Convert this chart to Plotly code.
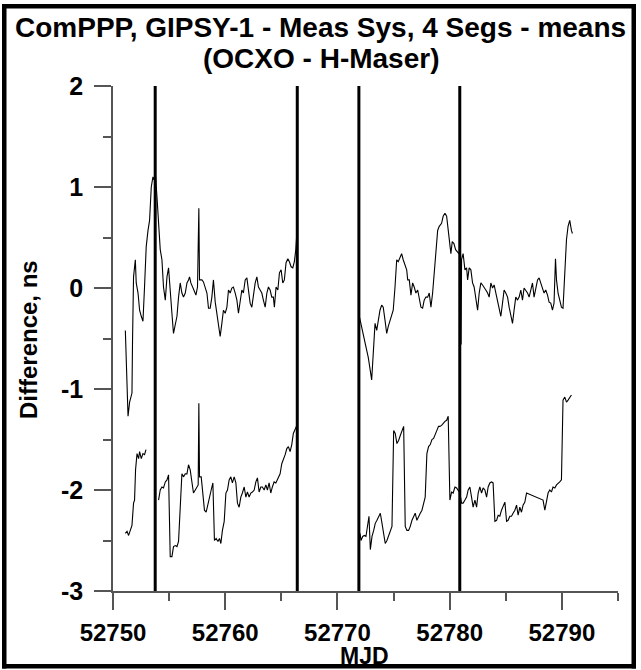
import plotly.graph_objects as go

# ---------------- data ----------------
top_seg1_mjd = [52751.10, 52751.34, 52751.48, 52751.69, 52751.74, 52751.83, 52751.99, 52752.07, 52752.23, 52752.37,
                52752.52, 52752.67, 52752.81, 52752.96, 52753.12, 52753.26, 52753.41, 52753.56, 52753.65, 52753.77,
                52753.92, 52754.06, 52754.21, 52754.36, 52754.50, 52754.66, 52754.81, 52754.95, 52755.10, 52755.25,
                52755.39, 52755.55, 52755.70, 52755.84, 52755.99, 52756.14, 52756.28, 52756.44, 52756.59, 52756.73,
                52756.82, 52756.94, 52757.08, 52757.24, 52757.39, 52757.53, 52757.65, 52757.71, 52757.92, 52758.06,
                52758.22, 52758.37, 52758.51, 52758.66, 52758.81, 52758.95, 52759.11, 52759.26, 52759.40, 52759.55,
                52759.70, 52759.84, 52760.00, 52760.15, 52760.29, 52760.44, 52760.59, 52760.73, 52760.89, 52761.04,
                52761.18, 52761.33, 52761.48, 52761.62, 52761.78, 52761.93, 52762.07, 52762.22, 52762.37, 52762.51,
                52762.67, 52762.82, 52762.96, 52763.11, 52763.26, 52763.40, 52763.56, 52763.71, 52763.85, 52764.00,
                52764.15, 52764.29, 52764.38, 52764.53, 52764.69, 52764.83, 52764.98, 52765.13, 52765.27, 52765.42,
                52765.58, 52765.72, 52765.87, 52766.02, 52766.16, 52766.29, 52766.38]
top_seg1_val = [-0.42, -1.27, -1.13, -1.04, -0.52, 0.11, 0.28, 0.05, -0.05, -0.22,
                -0.28, -0.33, 0.01, 0.41, 0.57, 0.67, 1.00, 1.10, 1.07, 1.14,
                0.90, 0.61, 0.38, 0.28, 0.01, -0.12, 0.11, 0.20, 0.01, -0.25,
                -0.45, -0.35, -0.28, -0.09, 0.05, -0.05, -0.09, -0.05, 0.05, 0.08,
                0.11, 0.05, 0.01, -0.04, -0.07, 0.01, 0.79, 0.08, 0.08, 0.06,
                0.00, -0.05, -0.20, -0.20, -0.09, 0.08, -0.14, -0.25, -0.35, -0.48,
                -0.35, -0.22, -0.25, -0.19, -0.02, -0.05, 0.00, 0.01, -0.05, -0.12,
                -0.25, -0.12, -0.02, -0.05, 0.08, 0.10, -0.05, -0.15, -0.19, -0.05,
                0.05, 0.11, 0.01, -0.02, -0.05, -0.12, -0.19, -0.05, 0.01, -0.02,
                -0.09, -0.09, -0.19, 0.01, -0.02, 0.15, 0.18, 0.05, 0.08, 0.25,
                0.29, 0.26, 0.21, 0.20, 0.26, 0.38, 0.54]

top_seg3_mjd = [52771.95, 52772.16, 52772.46, 52772.75, 52773.05, 52773.19, 52773.35, 52773.50, 52773.64, 52773.79,
                52773.94, 52774.08, 52774.24, 52774.39, 52774.53, 52774.68, 52774.83, 52774.97, 52775.13, 52775.28,
                52775.42, 52775.57, 52775.72, 52775.86, 52776.02, 52776.17, 52776.26, 52776.40, 52776.55, 52776.70,
                52776.84, 52776.99, 52777.15, 52777.29, 52777.44, 52777.59, 52777.73, 52777.88, 52778.04, 52778.18,
                52778.33, 52778.48, 52778.62, 52778.77, 52778.93, 52779.07, 52779.28, 52779.42, 52779.58, 52779.73,
                52779.87, 52780.02, 52780.11, 52780.23, 52780.38, 52780.53, 52780.67, 52780.82, 52780.97, 52781.02,
                52781.06, 52781.20, 52781.36, 52781.51, 52781.60, 52781.74, 52781.89, 52782.04, 52782.18, 52782.33,
                52782.49, 52782.63, 52782.78, 52782.93, 52783.07, 52783.22, 52783.38, 52783.52, 52783.67, 52783.82,
                52783.96, 52784.11, 52784.27, 52784.41, 52784.56, 52784.71, 52784.85, 52785.00, 52785.16, 52785.30,
                52785.45, 52785.60, 52785.74, 52785.89, 52786.05, 52786.19, 52786.34, 52786.49, 52786.63, 52786.78,
                52786.94, 52787.08, 52787.23, 52787.38, 52787.52, 52787.67, 52787.83, 52787.97, 52788.12, 52788.27,
                52788.41, 52788.56, 52788.72, 52788.86, 52789.01, 52789.16, 52789.30, 52789.43, 52789.52, 52789.66,
                52789.81, 52789.96, 52790.10, 52790.26, 52790.41, 52790.55, 52790.70, 52790.85, 52790.94]
top_seg3_val = [-0.28, -0.38, -0.52, -0.69, -0.91, -0.61, -0.35, -0.42, -0.32, -0.22,
                -0.17, -0.19, -0.32, -0.45, -0.38, -0.32, -0.25, -0.22, 0.01, 0.28,
                0.26, 0.31, 0.34, 0.28, 0.23, 0.18, 0.08, 0.08, -0.07, 0.05,
                0.01, -0.05, -0.02, -0.12, -0.19, -0.20, -0.12, -0.09, -0.09, -0.05,
                -0.19, -0.05, 0.15, 0.41, 0.57, 0.61, 0.64, 0.71, 0.74, 0.71,
                0.57, 0.44, 0.34, 0.46, 0.44, 0.38, 0.36, 0.34, 0.33, -0.56,
                0.28, 0.34, 0.18, 0.20, 0.08, 0.20, 0.18, 0.05, 0.01, -0.09,
                -0.22, -0.05, 0.05, 0.03, 0.00, -0.02, -0.05, -0.09, 0.05, 0.00,
                0.03, -0.05, -0.12, -0.22, -0.28, -0.15, -0.02, -0.05, -0.09, -0.19,
                -0.28, -0.35, -0.22, -0.09, -0.12, -0.09, -0.02, -0.12, 0.00, -0.02,
                -0.05, -0.09, -0.02, 0.05, -0.09, -0.02, 0.08, 0.10, 0.05, -0.02,
                -0.05, -0.02, -0.07, -0.14, -0.15, -0.22, -0.15, 0.29, 0.08, -0.05,
                -0.12, -0.19, -0.20, 0.15, 0.48, 0.61, 0.67, 0.57, 0.54]

bot_seg1_mjd = [52751.10, 52751.25, 52751.39, 52751.54, 52751.69, 52751.83, 52751.92, 52752.01, 52752.14, 52752.28,
                52752.37, 52752.52, 52752.67, 52752.81, 52752.94]
bot_seg1_val = [-2.43, -2.41, -2.45, -2.40, -2.35, -2.13, -2.10, -1.80, -1.64, -1.69,
                -1.62, -1.69, -1.64, -1.65, -1.60]

bot_seg2_mjd = [52754.06, 52754.21, 52754.36, 52754.50, 52754.66, 52754.81, 52754.95, 52755.04, 52755.10, 52755.25,
                52755.39, 52755.55, 52755.70, 52755.84, 52755.99, 52756.14, 52756.28, 52756.44, 52756.59, 52756.73,
                52756.88, 52757.03, 52757.17, 52757.33, 52757.48, 52757.59, 52757.65, 52757.71, 52757.86, 52758.01,
                52758.15, 52758.30, 52758.46, 52758.60, 52758.75, 52758.90, 52759.04, 52759.19, 52759.35, 52759.49,
                52759.61, 52759.75, 52759.91, 52760.06, 52760.20, 52760.35, 52760.50, 52760.64, 52760.80, 52760.95,
                52761.09, 52761.24, 52761.39, 52761.53, 52761.69, 52761.84, 52761.98, 52762.13, 52762.28, 52762.42,
                52762.58, 52762.73, 52762.87, 52763.02, 52763.17, 52763.31, 52763.47, 52763.62, 52763.76, 52763.91,
                52764.06, 52764.20, 52764.36, 52764.51, 52764.65, 52764.80, 52764.89, 52765.04, 52765.18, 52765.34,
                52765.49, 52765.63, 52765.78, 52765.93, 52766.07, 52766.23, 52766.38]
bot_seg2_val = [-2.10, -2.00, -1.97, -1.98, -1.92, -1.90, -1.85, -2.26, -2.66, -2.66,
                -2.56, -2.55, -2.56, -2.51, -2.13, -1.84, -1.87, -1.84, -1.84, -1.75,
                -1.80, -1.93, -2.03, -2.00, -1.97, -1.95, -1.14, -1.87, -1.87, -2.03,
                -2.20, -2.22, -2.13, -2.07, -2.00, -1.93, -2.50, -2.48, -2.51, -2.48,
                -2.53, -2.40, -2.31, -2.03, -2.00, -1.90, -1.87, -1.93, -1.87, -1.93,
                -2.13, -2.17, -2.07, -2.03, -1.97, -2.07, -2.02, -2.07, -2.03, -2.02,
                -2.00, -1.92, -1.88, -2.02, -1.97, -1.97, -2.00, -1.95, -2.00, -1.93,
                -2.03, -1.97, -1.92, -1.93, -1.90, -1.87, -1.84, -1.74, -1.70, -1.65,
                -1.59, -1.57, -1.62, -1.55, -1.44, -1.39, -1.36]

bot_seg3_mjd = [52772.01, 52772.10, 52772.25, 52772.39, 52772.54, 52772.70, 52772.81, 52772.93, 52773.08, 52773.23,
                52773.37, 52773.52, 52773.67, 52773.82, 52773.97, 52774.12, 52774.26, 52774.41, 52774.56, 52774.71,
                52774.86, 52775.01, 52775.15, 52775.30, 52775.45, 52775.60, 52775.75, 52775.90, 52776.04, 52776.19,
                52776.34, 52776.49, 52776.64, 52776.79, 52776.93, 52777.08, 52777.23, 52777.38, 52777.53, 52777.68,
                52777.82, 52777.97, 52778.12, 52778.27, 52778.42, 52778.57, 52778.71, 52778.86, 52779.01, 52779.13,
                52779.28, 52779.42, 52779.58, 52779.73, 52779.87, 52780.02, 52780.17, 52780.31, 52780.47, 52780.62,
                52780.76, 52780.91, 52781.06, 52781.20, 52781.36, 52781.51, 52781.65, 52781.80, 52781.95, 52782.09,
                52782.25, 52782.40, 52782.54, 52782.69, 52782.84, 52782.98, 52783.14, 52783.29, 52783.43, 52783.58,
                52783.73, 52783.87, 52784.03, 52784.18, 52784.32, 52784.47, 52784.62, 52784.76, 52784.92, 52785.07,
                52785.21, 52785.36, 52785.51, 52785.65, 52785.81, 52785.96, 52786.10, 52786.25, 52786.40, 52786.54,
                52786.70, 52786.85, 52788.32, 52788.48, 52788.63, 52788.77, 52788.92, 52789.07, 52789.21, 52789.37,
                52789.52, 52789.66, 52789.81, 52789.96, 52790.10, 52790.26, 52790.41, 52790.55, 52790.70, 52790.85]
bot_seg3_val = [-2.43, -2.50, -2.46, -2.45, -2.46, -2.36, -2.26, -2.59, -2.46, -2.40,
                -2.33, -2.30, -2.26, -2.23, -2.33, -2.46, -2.53, -2.50, -2.45, -2.41,
                -2.36, -1.41, -1.44, -1.54, -1.51, -1.46, -1.41, -1.37, -2.36, -2.40,
                -2.40, -2.36, -2.30, -2.26, -2.23, -2.30, -2.26, -2.23, -2.20, -2.13,
                -2.07, -1.64, -1.57, -1.55, -1.50, -1.49, -1.44, -1.41, -1.37, -1.37,
                -1.36, -1.34, -1.32, -1.31, -1.27, -2.10, -2.02, -2.03, -1.97, -1.98,
                -2.00, -2.03, -2.13, -2.13, -2.10, -2.07, -2.00, -1.97, -2.07, -2.17,
                -2.10, -2.17, -2.03, -1.97, -2.03, -1.98, -2.00, -2.07, -1.97, -1.93,
                -1.92, -1.93, -2.31, -2.30, -2.25, -2.26, -2.20, -2.17, -2.12, -2.31,
                -2.30, -2.26, -2.26, -2.23, -2.20, -2.15, -2.25, -2.17, -2.22, -2.15,
                -2.12, -2.03, -2.10, -2.20, -2.10, -2.03, -2.00, -2.02, -1.97, -1.98,
                -1.95, -1.93, -1.92, -1.90, -1.11, -1.08, -1.13, -1.11, -1.09, -1.06]

segment_bounds = [52753.76, 52766.42, 52771.91, 52780.90]

x_range = [52750, 52795]
y_range = [-3, 2]
x_ticks = [52750, 52760, 52770, 52780, 52790]
x_ticklabels = ["52750", "52760", "52770", "52780", "52790"]
y_ticks = [-3, -2, -1, 0, 1, 2]
y_ticklabels = ["-3", "-2", "-1", "0", "1", "2"]

title_lines = ["ComPPP, GIPSY-1 - Meas Sys, 4 Segs - means", "(OCXO - H-Maser)"]
x_title = "MJD"
y_title = "Difference, ns"


def join(*segs):
    xs, ys = [], []
    for i, (sx, sy) in enumerate(segs):
        if i:
            xs.append(None)
            ys.append(None)
        xs += list(sx)
        ys += list(sy)
    return xs, ys


# ---------------- figure ----------------
W, H = 641, 670
ML, MR, MT, MB = 113, 23, 86, 79
FONT = "Liberation Sans, Arial, sans-serif"
AX = "#555555"

fig = go.Figure()

tx, ty = join((top_seg1_mjd, top_seg1_val), (top_seg3_mjd, top_seg3_val))
bx, by = join((bot_seg1_mjd, bot_seg1_val), (bot_seg2_mjd, bot_seg2_val), (bot_seg3_mjd, bot_seg3_val))

for xs, ys in [(tx, ty), (bx, by)]:
    fig.add_trace(go.Scatter(x=xs, y=ys, mode="lines", connectgaps=False,
                             line=dict(color="black", width=1.1),
                             showlegend=False, hoverinfo="skip"))

for b in segment_bounds:
    fig.add_trace(go.Scatter(x=[b, b], y=y_range, mode="lines",
                             line=dict(color="black", width=3),
                             showlegend=False, hoverinfo="skip"))

tickfont = dict(family=FONT, size=24, color="black", weight="bold")
titlefont = dict(family=FONT, size=24, color="black", weight="bold")

fig.update_xaxes(range=x_range, tickvals=x_ticks, ticktext=x_ticklabels, ticks="outside",
                 ticklen=17, tickwidth=1.5, tickcolor=AX, showline=True, linecolor=AX, linewidth=1.5,
                 showgrid=False, zeroline=False, tickfont=tickfont, ticklabelstandoff=2,
                 minor=dict(dtick=5, tick0=52750, ticks="outside", ticklen=8, tickwidth=1.5,
                            tickcolor=AX, showgrid=False))
fig.update_yaxes(range=y_range, tickvals=y_ticks, ticktext=y_ticklabels, ticks="outside",
                 ticklen=17, tickwidth=1.5, tickcolor=AX, showline=True, linecolor=AX, linewidth=1.5,
                 showgrid=False, zeroline=False, tickfont=dict(tickfont, size=25), ticklabelstandoff=6,
                 minor=dict(dtick=0.5, tick0=-3, ticks="outside", ticklen=8, tickwidth=1.5,
                            tickcolor=AX, showgrid=False))

pw = W - ML - MR
ph = H - MT - MB
def px2paper_x(p):
    return (p - ML) / pw
def px2paper_y(p):
    return (H - MB - p) / ph

# outer frame: four filled black bars (pixel-placed)
fl, fr, ft, fb, th = 2.0, 636.0, 4.0, 668.5, 4.5
bars = [(fl, ft, fr, ft + th),          # top
        (fl, fb - th, fr, fb),          # bottom
        (fl, ft, fl + th, fb),          # left
        (fr - th, ft, fr, fb)]          # right
for (x0, y0, x1, y1) in bars:
    fig.add_shape(type="rect", xref="paper", yref="paper",
                  x0=px2paper_x(x0), y0=px2paper_y(y1), x1=px2paper_x(x1), y1=px2paper_y(y0),
                  line=dict(width=0), fillcolor="black", layer="above")

# title and axis titles as annotations (pixel-placed)
for txt, yc in zip(title_lines, [28, 59]):
    fig.add_annotation(text=txt, xref="paper", yref="paper",
                       x=px2paper_x(320.5), y=px2paper_y(yc), xanchor="center", yanchor="middle",
                       showarrow=False,
                       font=dict(family=FONT, size=28, color="black", weight="bold"))
fig.add_annotation(text=y_title, xref="paper", yref="paper", textangle=-90,
                   x=px2paper_x(28), y=px2paper_y(340), xanchor="center", yanchor="middle",
                   showarrow=False, font=titlefont)
fig.add_annotation(text=x_title, xref="paper", yref="paper",
                   x=px2paper_x(364), y=px2paper_y(656), xanchor="center", yanchor="middle",
                   showarrow=False, font=dict(titlefont, size=23))

fig.update_layout(
    width=W, height=H,
    margin=dict(l=ML, r=MR, t=MT, b=MB),
    paper_bgcolor="white", plot_bgcolor="white",
    showlegend=False,
)

fig.write_html("out.html", config={"displayModeBar": False},
               post_script="document.body.style.margin='0';document.body.style.overflow='hidden';")
